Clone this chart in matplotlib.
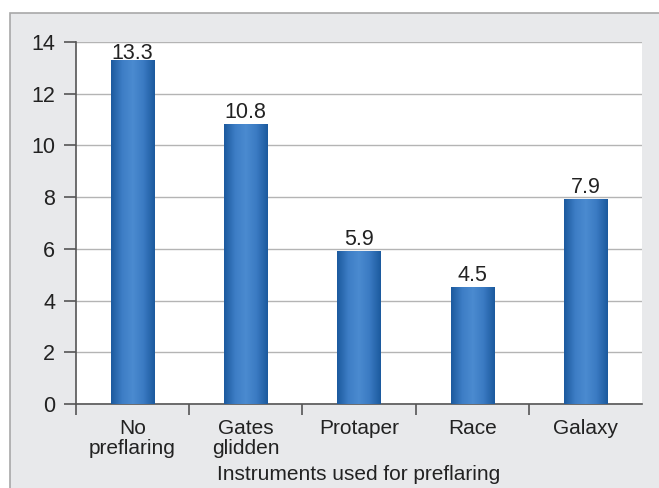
import numpy as np
import matplotlib
matplotlib.use("Agg")
from matplotlib import pyplot as plt
from matplotlib.colors import LinearSegmentedColormap
from matplotlib.patches import Rectangle

# data
categories = ["No\npreflaring", "Gates\nglidden", "Protaper", "Race", "Galaxy"]
values = [13.3, 10.8, 5.9, 4.5, 7.9]
value_labels = ["13.3", "10.8", "5.9", "4.5", "7.9"]
yticks = [0, 2, 4, 6, 8, 10, 12, 14]

plt.rcParams['font.family'] = ['Liberation Sans', 'DejaVu Sans']

fig = plt.figure(figsize=(6.59, 4.88), dpi=100)
fig.patch.set_facecolor('white')

# grey panel behind the chart
panel = Rectangle((10 / 659, -0.1), 1.2, (488 - 13) / 488 + 0.1,
                  transform=fig.transFigure, facecolor='#e8e9eb',
                  edgecolor='#a8a8a8', linewidth=1.2, zorder=-10)
fig.add_artist(panel)

ax = fig.add_axes([76 / 659, 84 / 488, (642 - 76) / 659, (404 - 42) / 488])
ax.set_facecolor('white')

# bars with a horizontal gradient
cmap = LinearSegmentedColormap.from_list(
    'bar', ['#1c5a9e', '#3d7dc5', '#4b8bd0', '#3a7ac2', '#1c5a9e'])
grad = np.linspace(0, 1, 64).reshape(1, -1)
width = 0.38
x = np.arange(len(categories))
for xi, v, lab in zip(x, values, value_labels):
    ax.imshow(grad, cmap=cmap, extent=(xi - width / 2, xi + width / 2, 0, v),
              aspect='auto', zorder=3, interpolation='bicubic')
    # labels sit above the bar, but are kept inside the plot area
    ly = min(v + 0.25, 13.35)
    ax.text(xi, ly, lab, ha='center', va='baseline', fontsize=15.5,
            color='#222222', zorder=4)

ax.set_xlim(-0.5, 4.5)
ax.set_ylim(0, 14)

# grid
ax.set_yticks(yticks)
ax.yaxis.grid(True, color='#b4b4b4', linewidth=1.0, zorder=1)
ax.set_axisbelow(True)

ax.tick_params(axis='y', direction='out', length=9, width=1.2,
               color='#555555', labelsize=15.5, labelcolor='#222222', pad=6)

ax.set_xticks([-0.5, 0.5, 1.5, 2.5, 3.5])
ax.set_xticklabels([])
ax.set_xticks(x, minor=True)
ax.set_xticklabels(categories, minor=True, fontsize=15, color='#222222',
                   linespacing=1.05)
ax.tick_params(axis='x', which='major', direction='out', length=8, width=1.2,
               color='#555555')
ax.tick_params(axis='x', which='minor', length=0, pad=11)

ax.set_xlabel("Instruments used for preflaring", fontsize=15,
              color='#222222', labelpad=5)

for s in ['top', 'right']:
    ax.spines[s].set_visible(False)
for s in ['left', 'bottom']:
    ax.spines[s].set_color('#555555')
    ax.spines[s].set_linewidth(1.2)

fig.savefig("out.png", dpi=100)
